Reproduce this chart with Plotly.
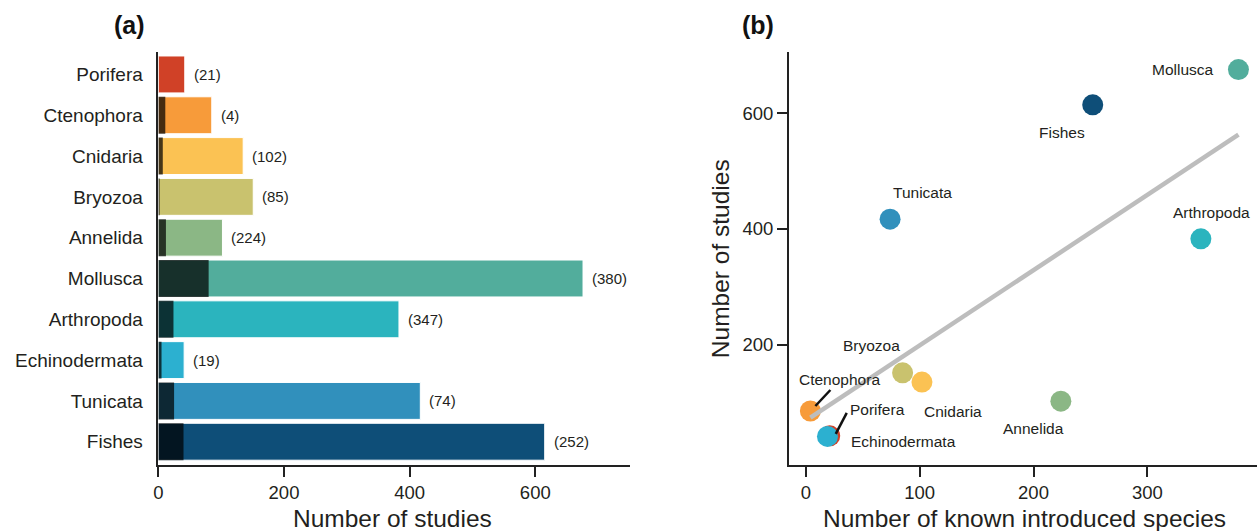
import numpy as np
import plotly.graph_objects as go

# ---- data ----
taxa = ["Porifera", "Ctenophora", "Cnidaria", "Bryozoa", "Annelida",
        "Mollusca", "Arthropoda", "Echinodermata", "Tunicata", "Fishes"]
studies = [42, 85, 135, 151, 102, 676, 383, 41, 417, 615]
dark_studies = [0, 11, 7, 2, 12, 80, 24, 5, 25, 40]
introduced = [21, 4, 102, 85, 224, 380, 347, 19, 74, 252]
colors = ["#D04127", "#F79B3A", "#FBC253", "#C9C26E", "#8BB785",
          "#52AD9C", "#2BB4BE", "#2CB0D0", "#3190BC", "#0E4E78"]
xticks_a = [0, 200, 400, 600]
xticks_b = [0, 100, 200, 300]
yticks_b = [200, 400, 600]

# label placement (pixel offsets from each point) for panel (b)
label_pos = {
    "Porifera": (48, 26, "center"),
    "Ctenophora": (29, 31, "center"),
    "Cnidaria": (31, -29, "center"),
    "Bryozoa": (-31, 27, "center"),
    "Annelida": (-27, -27, "center"),
    "Mollusca": (-22, 0, "right"),
    "Arthropoda": (11, 26, "center"),
    "Echinodermata": (76, -5, "center"),
    "Tunicata": (32, 27, "center"),
    "Fishes": (-31, -28, "center"),
}
leaders = {"Ctenophora": (5, 5, 20, 21), "Porifera": (6, 2, 17, 23)}

W, H = 1257, 531
TXT = "#231F20"
FONT = "Liberation Sans, Arial, Helvetica, sans-serif"

fig = go.Figure()

# panel (a) bars
fig.add_trace(go.Bar(y=taxa, x=studies, orientation="h",
                     marker=dict(color=colors, line=dict(color="white", width=1)),
                     xaxis="x", yaxis="y", showlegend=False))
fig.add_trace(go.Bar(y=taxa, x=dark_studies, orientation="h",
                     marker=dict(color="rgba(0,0,0,0.72)", line=dict(width=0)),
                     xaxis="x", yaxis="y", showlegend=False))

# panel (b) scatter
fig.add_trace(go.Scatter(x=introduced, y=studies, mode="markers",
                         marker=dict(color=colors, size=21, line=dict(width=0)),
                         xaxis="x2", yaxis="y2", showlegend=False))
slope, intercept = np.polyfit(introduced, studies, 1)
xfit = np.array([min(introduced), max(introduced)])
fig.add_trace(go.Scatter(x=xfit, y=slope * xfit + intercept, mode="lines",
                         line=dict(color="#BDBDBD", width=4.5),
                         xaxis="x2", yaxis="y2", showlegend=False))

annotations = []
# value labels in (a)
for t, s, n in zip(taxa, studies, introduced):
    annotations.append(dict(x=s, y=t, xref="x", yref="y", text=f"({n})",
                            showarrow=False, xanchor="left", yanchor="middle",
                            xshift=7, font=dict(size=15, color=TXT, family=FONT)))
# point labels in (b)
for t, s, n in zip(taxa, studies, introduced):
    dx, dy, anc = label_pos[t]
    annotations.append(dict(x=n, y=s, xref="x2", yref="y2", text=t,
                            showarrow=False, xanchor=anc, yanchor="middle",
                            xshift=dx, yshift=dy,
                            font=dict(size=15.5, color=TXT, family=FONT)))

shapes = []
for t, s, n in zip(taxa, studies, introduced):
    if t in leaders:
        x0, y0, x1, y1 = leaders[t]
        shapes.append(dict(type="line", xref="x2", yref="y2",
                           xsizemode="pixel", ysizemode="pixel",
                           xanchor=n, yanchor=s, x0=x0, y0=y0, x1=x1, y1=y1,
                           line=dict(color="#111111", width=2.5)))

# titles
annotations += [
    dict(x=125 / W, y=1 - 25 / H, xref="paper", yref="paper", text="<b>(a)</b>",
         showarrow=False, xanchor="center", yanchor="middle",
         font=dict(size=25, color="#111", family=FONT)),
    dict(x=756 / W, y=1 - 25 / H, xref="paper", yref="paper", text="<b>(b)</b>",
         showarrow=False, xanchor="center", yanchor="middle",
         font=dict(size=25, color="#111", family=FONT)),
    dict(x=389.5 / W, y=1 - 518 / H, xref="paper", yref="paper", text="Number of studies",
         showarrow=False, xanchor="center", yanchor="middle",
         font=dict(size=24.5, color=TXT, family=FONT)),
    dict(x=1023.5 / W, y=1 - 518 / H, xref="paper", yref="paper",
         text="Number of known introduced species",
         showarrow=False, xanchor="center", yanchor="middle",
         font=dict(size=24.5, color=TXT, family=FONT)),
    dict(x=718 / W, y=1 - 259 / H, xref="paper", yref="paper", text="Number of studies",
         showarrow=False, xanchor="center", yanchor="middle", textangle=-90,
         font=dict(size=24.5, color=TXT, family=FONT)),
]

axis_common = dict(showline=True, linecolor="#222", linewidth=1.5, showgrid=False,
                   zeroline=False, tickcolor="#222", tickwidth=1.5,
                   tickfont=dict(size=18.5, color=TXT, family=FONT))

y_bot = 1 - 465 / H
y_top = 1 - 52 / H

fig.update_layout(
    width=W, height=H,
    margin=dict(l=0, r=0, t=0, b=0),
    paper_bgcolor="white", plot_bgcolor="white",
    barmode="overlay", bargap=0.095,
    font=dict(family=FONT, color=TXT),
    xaxis=dict(domain=[154 / W, 627 / W], anchor="y", range=[0, 750],
               tickvals=xticks_a, ticks="outside", ticklen=10, **axis_common),
    yaxis=dict(domain=[y_bot, y_top], anchor="x", type="category",
               categoryorder="array", categoryarray=taxa,
               range=[9.57, -0.55], ticks="", ticklabelstandoff=10,
               showline=True, linecolor="#222", linewidth=1.5, showgrid=False,
               zeroline=False, tickfont=dict(size=19, color=TXT, family=FONT)),
    xaxis2=dict(domain=[787 / W, 1.0], anchor="y2", range=[-14.9, 396.3],
                tickvals=xticks_b, ticks="outside", ticklen=10, **axis_common),
    yaxis2=dict(domain=[y_bot, y_top], anchor="x2", range=[-8.5, 706.4],
                tickvals=yticks_b, ticks="outside", ticklen=10, **axis_common),
    annotations=annotations,
    shapes=shapes,
)

fig.write_html(
    "out.html",
    config={"displayModeBar": False},
    post_script="document.body.style.margin='0';document.body.style.overflow='hidden';",
)
